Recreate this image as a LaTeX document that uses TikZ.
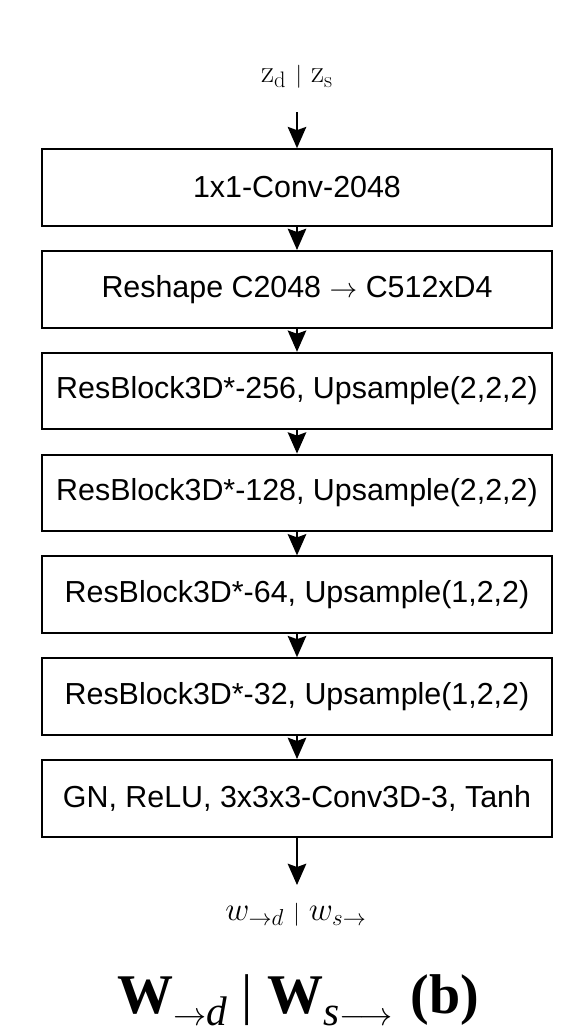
\documentclass[tikz,border=0pt]{standalone}
\usepackage{fontspec}
\usepackage{amsmath}
\newfontfamily\boxfont{Liberation Sans}
\newfontfamily\capfont{Liberation Serif}
\usetikzlibrary{arrows.meta}
\tikzset{
  layer/.style = {draw, line width=1.5pt, minimum width=382.5pt, minimum height=57.5pt, inner sep=0pt, font=\boxfont\fontsize{22.8}{26}\selectfont},
  flow/.style = {-{Stealth[length=16pt, width=14pt, inset=2.5pt]}, line width=1.1pt}
}
\begin{document}
\begin{tikzpicture}[x=0.75pt, y=-0.75pt]
  \useasboundingbox (0, 0) rectangle (586, 1036);
  \node (zin) at (297, 77) {\fontsize{24}{28}\selectfont $\mathrm{z}_{\mathrm{d}}\;{\scriptstyle|}\;\mathrm{z}_{\mathrm{s}}$};
  \coordinate (zout) at (297, 112);
  \node [layer] (conv) at (297, 187.5) {1x1-Conv-2048};
  \node [layer] (reshape) at (297, 289.3) {Reshape C2048 $\rightarrow$ C512xD4};
  \node [layer] (res256) at (297, 391.1) {ResBlock3D*-256, Upsample(2,2,2)};
  \node [layer] (res128) at (297, 492.9) {ResBlock3D*-128, Upsample(2,2,2)};
  \node [layer] (res64) at (297, 594.7) {ResBlock3D*-64, Upsample(1,2,2)};
  \node [layer] (res32) at (297, 696.5) {ResBlock3D*-32, Upsample(1,2,2)};
  \node [layer] (head) at (297, 798.3) {GN, ReLU, 3x3x3-Conv3D-3, Tanh};
  \coordinate (wout) at (297, 885);
  \node (win) at (296, 915) {\fontsize{25}{28}\selectfont $w_{\rightarrow d}\;{\scriptstyle|}\;w_{s\rightarrow}$};
  \node [font=\capfont\fontsize{42}{48}\selectfont, anchor=base] (caption) at (298, 1013) {\textbf{W}\raisebox{-9pt}{\fontsize{31}{31}\selectfont$\rightarrow$\textit{d}}\hspace{11pt}|\hspace{11pt}\textbf{W}\raisebox{-9pt}{\fontsize{31}{31}\selectfont\textit{s}$\longrightarrow$}\hspace{13pt}\textbf{(b)}};
  \draw [flow] (zout) -- (conv);
  \draw [flow] (conv) -- (reshape);
  \draw [flow] (reshape) -- (res256);
  \draw [flow] (res256) -- (res128);
  \draw [flow] (res128) -- (res64);
  \draw [flow] (res64) -- (res32);
  \draw [flow] (res32) -- (head);
  \draw [flow] (head) -- (wout);
\end{tikzpicture}
\end{document}
